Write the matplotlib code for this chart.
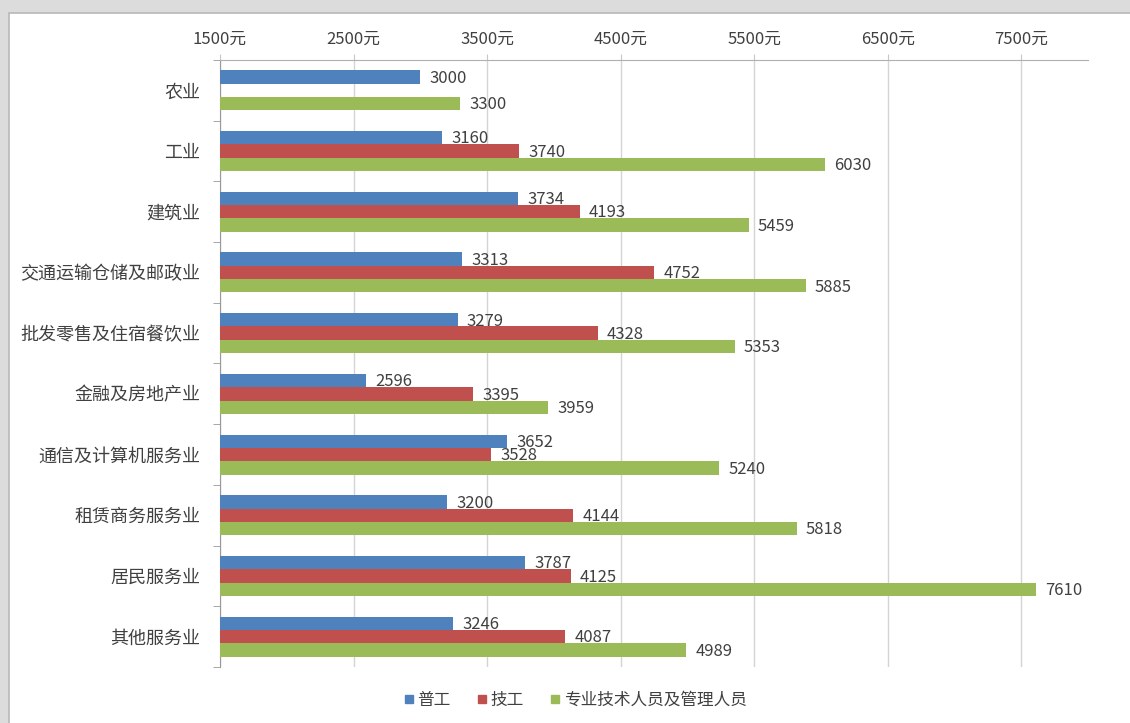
import numpy as np
import matplotlib.pyplot as plt
from matplotlib.patches import Rectangle
from matplotlib.lines import Line2D

plt.rcParams['font.family'] = ['Noto Sans CJK SC', 'DejaVu Sans']

categories = ['农业', '工业', '建筑业', '交通运输仓储及邮政业', '批发零售及住宿餐饮业',
              '金融及房地产业', '通信及计算机服务业', '租赁商务服务业', '居民服务业', '其他服务业']
series_names = ['普工', '技工', '专业技术人员及管理人员']
pugong = [3000, 3160, 3734, 3313, 3279, 2596, 3652, 3200, 3787, 3246]
jigong = [np.nan, 3740, 4193, 4752, 4328, 3395, 3528, 4144, 4125, 4087]
zhuanye = [3300, 6030, 5459, 5885, 5353, 3959, 5240, 5818, 7610, 4989]
x_ticks = [1500, 2500, 3500, 4500, 5500, 6500, 7500]
colors = ['#4F81BD', '#C0504D', '#9BBB59']

fig = plt.figure(figsize=(11.3, 7.23), dpi=100)
fig.patch.set_facecolor('#dcdcdc')
# white panel like the screenshot frame
fig.patches.append(Rectangle((9 / 1130, -0.05), 1.1, 1 - 13 / 723 + 0.05,
                             transform=fig.transFigure, facecolor='white',
                             edgecolor='#b8b8b8', linewidth=1.2, zorder=-10))

ax = fig.add_axes([220 / 1130, 1 - 667 / 723, (1088 - 220) / 1130, (667 - 60) / 723])
ax.set_facecolor('none')

y = np.arange(len(categories))
h = 0.22
text_col = '#404040'
for i, vals in enumerate([pugong, jigong, zhuanye]):
    pos = y + (i - 1) * h
    ax.barh(pos, vals, height=h, color=colors[i], label=series_names[i], zorder=3)
    for p, v in zip(pos, vals):
        if np.isnan(v):
            continue
        ax.text(v + 70, p + 0.02, f'{v:.0f}', va='center', ha='left',
                fontsize=12, color=text_col, zorder=4)

ax.set_xlim(1500, 8000)
ax.set_ylim(len(categories) - 0.5, -0.5)
ax.xaxis.tick_top()
ax.set_xticks(x_ticks)
ax.set_xticklabels([f'{t}元' for t in x_ticks], fontsize=12, color=text_col)
ax.tick_params(axis='x', length=4, color='#c8c8c8', pad=5)
ax.grid(axis='x', color='#d4d4d4', linewidth=1, zorder=0)

ax.set_yticks(y)
ax.set_yticklabels(categories, fontsize=13, color=text_col)
ax.set_yticks(np.arange(len(categories) + 1) - 0.5, minor=True)
ax.tick_params(axis='y', which='major', length=0, pad=14)
ax.tick_params(axis='y', which='minor', length=5, color='#999999')

for s in ['right', 'bottom']:
    ax.spines[s].set_visible(False)
ax.spines['top'].set_color('#b0b0b0')
ax.spines['left'].set_color('#999999')

handles = [Line2D([], [], marker='s', linestyle='none', markersize=6,
                  color=c) for c in colors]
fig.legend(handles, series_names, loc='center', bbox_to_anchor=(0.509, 1 - 700 / 723),
           ncol=3, frameon=False, fontsize=12, handlelength=0.6, handletextpad=0.2,
           columnspacing=1.6, labelcolor=text_col)

plt.savefig('out.png', dpi=100)
